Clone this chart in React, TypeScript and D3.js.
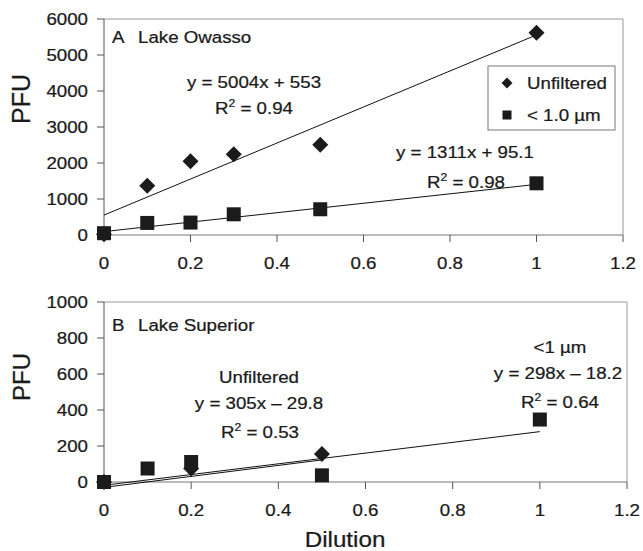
import React from 'react';
import * as d3 from 'd3';

// Panel A - Lake Owasso
const owassoDilution = [0, 0.1, 0.2, 0.3, 0.5, 1];
const owassoUnfiltered = [20, 1370, 2050, 2240, 2510, 5620];
const owassoFiltered = [50, 335, 345, 575, 715, 1436];
const owassoFitUnf = { slope: 5004, icpt: 553, eq: 'y = 5004x + 553', r2: '0.94' };
const owassoFitFil = { slope: 1311, icpt: 95.1, eq: 'y = 1311x + 95.1', r2: '0.98' };

// Panel B - Lake Superior
const superiorDilution = [0, 0.1, 0.2, 0.5, 1];
const superiorUnfDilution = [0, 0.2, 0.5];
const superiorUnfiltered = [0, 75, 155];
const superiorFiltered = [0, 75, 111, 37, 347];
const superiorFitUnf = { slope: 305, icpt: -29.8, eq: 'y = 305x – 29.8', r2: '0.53', x1: 0.5 };
const superiorFitFil = { slope: 298, icpt: -18.2, eq: 'y = 298x – 18.2', r2: '0.64', x1: 1 };

const xTicks = [0, 0.2, 0.4, 0.6, 0.8, 1, 1.2];
const yTicksA = [0, 1000, 2000, 3000, 4000, 5000, 6000];
const yTicksB = [0, 200, 400, 600, 800, 1000];

const FONT = 'Liberation Sans, Arial, sans-serif';
const SX = 1.1; // scanned figure is a bit wide
const INK = '#1b1b1b';

const T = ({ x, y, anchor = 'start', size = 17, children }: any) => (
  <text
    transform={`translate(${x},${y}) scale(${SX},1)`}
    textAnchor={anchor}
    fontSize={size}
    fontFamily={FONT}
    fill={INK}
    stroke={INK}
    strokeWidth={0.25}
  >
    {children}
  </text>
);

const R2 = ({ x, y, val }: any) => (
  <T x={x} y={y} anchor="middle">
    R<tspan dy={-7} fontSize={11}>2</tspan>
    <tspan dy={7}> = {val}</tspan>
  </T>
);

const Square = ({ cx, cy, s = 14 }: any) => (
  <rect x={cx - s / 2} y={cy - s / 2} width={s} height={s} fill={INK} />
);
const Diamond = ({ cx, cy, r = 8 }: any) => (
  <path d={`M${cx},${cy - r}L${cx + r},${cy}L${cx},${cy + r}L${cx - r},${cy}Z`} fill={INK} />
);

const Axes = ({ x, y, yTicks }: any) => {
  const [x0, x1] = x.range();
  const [y0, y1] = y.range();
  return (
    <g>
      <line x1={x0} x2={x1} y1={y1} y2={y1} stroke="#999" strokeWidth={1} />
      <line x1={x1} x2={x1} y1={y1} y2={y0} stroke="#999" strokeWidth={1} />
      <line x1={x0} x2={x1} y1={y0} y2={y0} stroke="#777" strokeWidth={1} />
      <line x1={x0} x2={x0} y1={y0} y2={y1} stroke="#555" strokeWidth={1} />
      {yTicks.map((t: number) => (
        <g key={'y' + t}>
          <line x1={x0 - 7} x2={x0} y1={y(t)} y2={y(t)} stroke="#555" />
          <T x={x0 - 16} y={y(t) + 6} anchor="end">{t}</T>
        </g>
      ))}
      {xTicks.map((t) => (
        <g key={'x' + t}>
          <line x1={x(t)} x2={x(t)} y1={y0} y2={y0 + 7} stroke="#555" />
          <T x={x(t)} y={y0 + 34} anchor="middle">{t}</T>
        </g>
      ))}
    </g>
  );
};

const fitLine = (x: any, y: any, f: any, x1 = 1) => (
  <line
    x1={x(0)}
    y1={y(f.icpt)}
    x2={x(x1)}
    y2={y(f.slope * x1 + f.icpt)}
    stroke="#111"
    strokeWidth={1}
  />
);

export default function App() {
  const xA = d3.scaleLinear().domain([0, 1.2]).range([104, 623]);
  const yA = d3.scaleLinear().domain([0, 6000]).range([235, 19]);
  const xB = d3.scaleLinear().domain([0, 1.2]).range([104, 627]);
  const yB = d3.scaleLinear().domain([0, 1000]).range([482, 302]);

  return (
    <svg width={643} height={551} style={{ position: 'absolute', left: 0, top: 0, background: '#fff' }}>
      <rect width={643} height={551} fill="#fff" />

      {/* Panel A */}
      <Axes x={xA} y={yA} yTicks={yTicksA} />
      {fitLine(xA, yA, owassoFitUnf)}
      {fitLine(xA, yA, owassoFitFil)}
      {owassoDilution.map((d, i) => (
        <Diamond key={'ad' + i} cx={xA(d)} cy={yA(owassoUnfiltered[i])} />
      ))}
      {owassoDilution.map((d, i) => (
        <Square key={'as' + i} cx={xA(d)} cy={yA(owassoFiltered[i])} />
      ))}
      <T x={112} y={43}>A</T>
      <T x={138} y={43}>Lake Owasso</T>
      <T x={254} y={88} anchor="middle">{owassoFitUnf.eq}</T>
      <R2 x={254} y={114} val={owassoFitUnf.r2} />
      <T x={465} y={158} anchor="middle">{owassoFitFil.eq}</T>
      <R2 x={466} y={188} val={owassoFitFil.r2} />

      <rect x={488} y={66} width={127} height={64} fill="#fff" stroke="#777" strokeWidth={1} />
      <Diamond cx={507} cy={83} r={5.5} />
      <Square cx={507} cy={115} s={9} />
      <T x={527} y={89}>Unfiltered</T>
      <T x={527} y={121}>&lt; 1.0 µm</T>

      <text
        transform="translate(30,99) rotate(-90)"
        textAnchor="middle"
        fontSize={25}
        fontFamily={FONT}
        fill={INK}
        stroke={INK}
        strokeWidth={0.25}
      >
        PFU
      </text>

      {/* Panel B */}
      <Axes x={xB} y={yB} yTicks={yTicksB} />
      {fitLine(xB, yB, superiorFitUnf, superiorFitUnf.x1)}
      {fitLine(xB, yB, superiorFitFil, superiorFitFil.x1)}
      {superiorUnfDilution.map((d, i) => (
        <Diamond key={'bd' + i} cx={xB(d)} cy={yB(superiorUnfiltered[i])} />
      ))}
      {superiorDilution.map((d, i) => (
        <Square key={'bs' + i} cx={xB(d)} cy={yB(superiorFiltered[i])} />
      ))}
      <T x={112} y={331}>B</T>
      <T x={138} y={331}>Lake Superior</T>
      <T x={259} y={383} anchor="middle">Unfiltered</T>
      <T x={259} y={409} anchor="middle">{superiorFitUnf.eq}</T>
      <R2 x={260} y={438} val={superiorFitUnf.r2} />
      <T x={560} y={353} anchor="middle">&lt;1 µm</T>
      <T x={558} y={379} anchor="middle">{superiorFitFil.eq}</T>
      <R2 x={560} y={408} val={superiorFitFil.r2} />

      <text
        transform="translate(30,377) rotate(-90)"
        textAnchor="middle"
        fontSize={24}
        fontFamily={FONT}
        fill={INK}
        stroke={INK}
        strokeWidth={0.25}
      >
        PFU
      </text>
      <T x={345} y={547} anchor="middle" size={22}>Dilution</T>
    </svg>
  );
}
